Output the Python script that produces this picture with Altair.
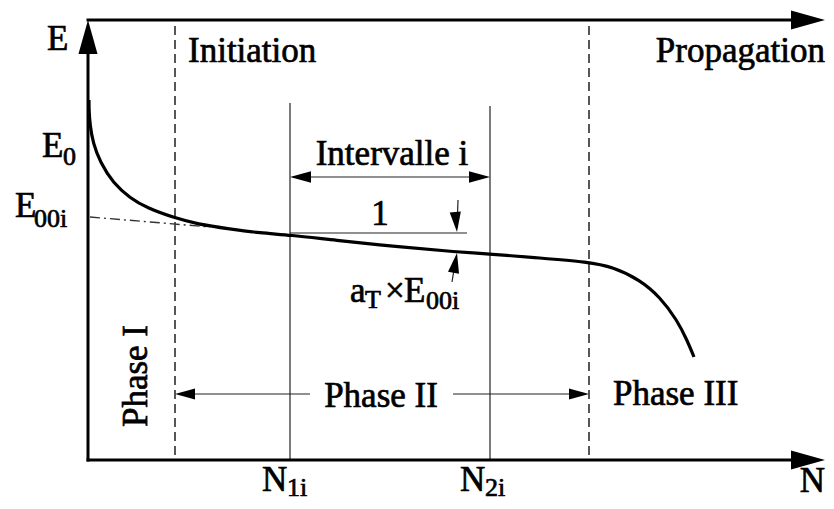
import altair as alt
import pandas as pd

# ---- schematic data (N along the horizontal axis, E along the vertical axis) ----
curve_n = [1, 1, 2, 5, 12, 25, 42, 59, 87, 109, 142, 172, 202, 245, 312, 369, 402, 452, 500, 525, 552, 572, 589, 599, 606]
curve_e = [360, 350, 335, 317, 298, 277, 262, 252, 242, 236, 231, 227, 225, 220, 213, 208, 206, 202, 198, 193, 180, 163, 140, 120, 103]

# extrapolation E00i (dash-dot)
dd_n = [2]; dd_e = [243]; dd_n2 = [122]; dd_e2 = [233]

# axes and frame (thick)
ax_n = [0, 0, 0];     ax_e = [0, 0, 440]
ax_n2 = [0, 725, 725]; ax_e2 = [428, 0, 440]

# phase boundaries (dashed)
ph_n = [87, 501]; ph_e = [5, 5]; ph_n2 = [87, 501]; ph_e2 = [440, 440]

# thin construction lines: N1i, N2i, interval arrow, slope line, a_T arrows, phase II arrows
th_n = [202, 402, 210, 202, 370, 364, 222, 365]
th_e = [0, 0, 283, 227, 260, 178, 66, 66]
th_n2 = [202, 402, 394, 379, 369, 368, 95, 493]
th_e2 = [357, 354, 283, 227, 232, 203, 66, 66]

# arrow heads: tip position, direction (deg), size
ah_n = [0, 737, 737, 202, 402, 369, 369, 87, 501]
ah_e = [440, 440, 0, 283, 283, 228, 207, 66, 66]
ah_ang = [0, 90, 90, 270, 90, 175, 10, 270, 90]
ah_size = [1156, 1156, 1156, 440, 440, 400, 400, 400, 400]

# texts
lbl_text = ["E", "E", "E", "N", "N", "Initiation", "Phase III", "a", "\u00d7", "E"]
lbl_n = [-41, -46, -73, 174, 372, 100, 525, 262, 297, 316]
lbl_e = [410, 303, 243, -31, -31, 398, 55, 158, 158, 158]

sub_text = ["0", "00i", "1i", "2i", "T", "00i"]
sub_n = [-25, -54, 199, 397, 277, 338]
sub_e = [295, 233, -36, -36, 152, 151]

ctr_text = ["Intervalle i", "1", "Phase II", "Phase I"]
ctr_n = [304, 292, 293, 59]
ctr_e = [295, 235, 53, 84]
ctr_ang = [0, 0, 0, 270]

rt_text = ["Propagation", "N"]
rt_n = [737, 737]
rt_e = [398, -32]

FONT = "Liberation Serif"
XS = alt.Scale(domain=[-80, 738], nice=False, zero=False)
YS = alt.Scale(domain=[-41, 452], nice=False, zero=False)


def seg_df(n, e, n2, e2):
    return pd.DataFrame({"n": n, "e": e, "n2": n2, "e2": e2})


def rules(df, **kw):
    return alt.Chart(df).mark_rule(**kw).encode(
        x=alt.X("n:Q", scale=XS, axis=None),
        y=alt.Y("e:Q", scale=YS, axis=None),
        x2="n2:Q", y2="e2:Q",
    )


curve = alt.Chart(pd.DataFrame({"n": curve_n, "e": curve_e})).mark_line(
    color="black", strokeWidth=3.2, interpolate="basis"
).encode(
    x=alt.X("n:Q", scale=XS, axis=None),
    y=alt.Y("e:Q", scale=YS, axis=None),
)

axes = rules(seg_df(ax_n, ax_e, ax_n2, ax_e2), color="black", strokeWidth=3, strokeCap="square")
phases = rules(seg_df(ph_n, ph_e, ph_n2, ph_e2), color="#3a3a3a", strokeWidth=1.7, strokeDash=[9, 5])
thin = rules(seg_df(th_n, th_e, th_n2, th_e2), color="#222", strokeWidth=1.2)
dashdot = rules(seg_df(dd_n, dd_e, dd_n2, dd_e2), color="#333", strokeWidth=1.4, strokeDash=[10, 4, 2, 4])

ARROW = "M0,0L0.56,2L-0.56,2Z"
heads = alt.Chart(pd.DataFrame({"n": ah_n, "e": ah_e, "ang": ah_ang, "s": ah_size})).mark_point(
    shape=ARROW, filled=True, color="black", opacity=1, strokeWidth=0
).encode(
    x=alt.X("n:Q", scale=XS, axis=None),
    y=alt.Y("e:Q", scale=YS, axis=None),
    angle=alt.Angle("ang:Q", scale=None),
    size=alt.Size("s:Q", scale=None),
)


def texts(text, n, e, align, size, ang=None):
    d = {"t": text, "n": n, "e": e}
    enc = dict(
        x=alt.X("n:Q", scale=XS, axis=None),
        y=alt.Y("e:Q", scale=YS, axis=None),
        text="t:N",
    )
    if ang is not None:
        d["ang"] = ang
        enc["angle"] = alt.Angle("ang:Q", scale=None)
    return alt.Chart(pd.DataFrame(d)).mark_text(
        font=FONT, fontSize=size, align=align, baseline="alphabetic",
        color="black", stroke="black", strokeWidth=0.7,
    ).encode(**enc)


t_lbl = texts(lbl_text, lbl_n, lbl_e, "left", 35)
t_sub = texts(sub_text, sub_n, sub_e, "left", 26)
t_ctr = texts(ctr_text, ctr_n, ctr_e, "center", 35, ctr_ang)
t_rt = texts(rt_text, rt_n, rt_e, "right", 35)

chart = alt.layer(
    dashdot, phases, thin, curve, axes, heads, t_lbl, t_sub, t_ctr, t_rt
).properties(
    width=818, height=493, padding=0,
    autosize=alt.AutoSizeParams(type="none"),
).configure_view(stroke=None)

chart.save("out.html", embed_options={"renderer": "svg", "actions": False})
